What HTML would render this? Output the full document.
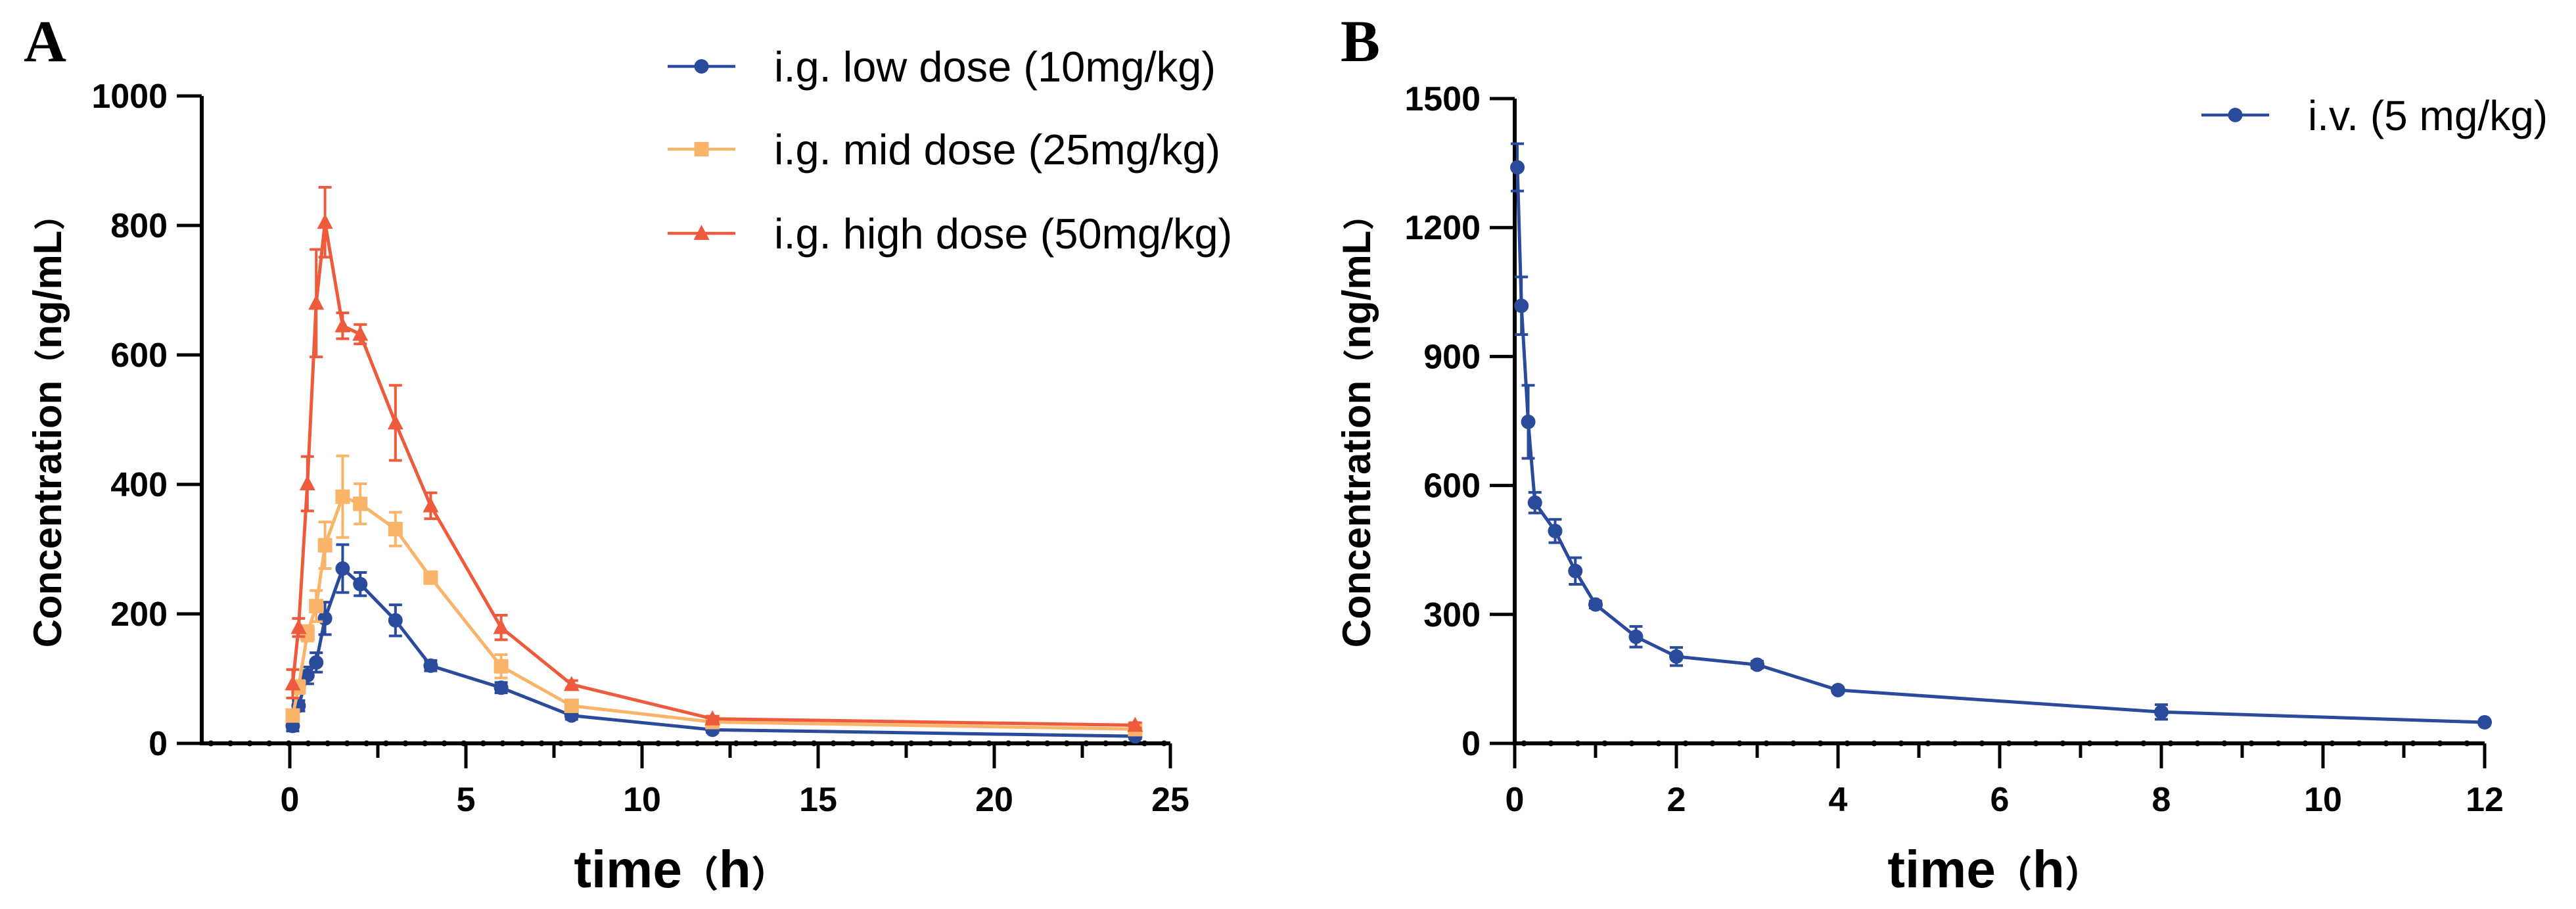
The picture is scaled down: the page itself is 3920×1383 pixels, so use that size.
<!DOCTYPE html>
<html><head><meta charset="utf-8"><style>
html,body{margin:0;padding:0;background:#fff}
svg{display:block}
text{font-family:"Liberation Sans","Noto Sans CJK SC",sans-serif}
text.serif{font-family:"Liberation Serif",serif}
</style></head><body>
<svg id="chart" width="3920" height="1383" viewBox="0 0 3920 1383" xmlns="http://www.w3.org/2000/svg">
<rect width="3920" height="1383" fill="#fff"/>
<g id="A"></g>
<g id="B"></g>
</svg>
<script>
// Panel A data
const timeA = [0.083, 0.25, 0.5, 0.75, 1, 1.5, 2, 3, 4, 6, 8, 12, 24];
const lowDose = [27, 58, 105, 125, 193, 270, 246, 190, 120, 86, 43, 21, 11];
const lowErr = [8, 8, 13, 15, 25, 37, 18, 24, 8, 8, 6, 4, 4];
const midDose = [43, 87, 170, 212, 306, 381, 370, 331, 256, 119, 58, 33, 22];
const midErr = [8, 10, 12, 24, 36, 63, 31, 26, 8, 18, 6, 4, 4];
const highDose = [92, 179, 401, 680, 805, 645, 632, 495, 367, 179, 91, 38, 28];
const highErr = [22, 14, 42, 83, 54, 20, 15, 58, 20, 19, 6, 4, 4];
const xTicksA = [0, 5, 10, 15, 20, 25];
const yTicksA = [0, 200, 400, 600, 800, 1000];
// Panel B data
const timeB = [0.033, 0.083, 0.167, 0.25, 0.5, 0.75, 1, 1.5, 2, 3, 4, 8, 12];
const ivDose = [1340, 1018, 748, 560, 494, 401, 323, 248, 202, 183, 124, 73, 49];
const ivErr = [55, 67, 85, 24, 27, 31, 8, 24, 21, 8, 5, 17, 3];
const xTicksB = [0, 2, 4, 6, 8, 10, 12];
const yTicksB = [0, 300, 600, 900, 1200, 1500];

const NS = "http://www.w3.org/2000/svg";
const BLUE = "#2a4a9c", ORANGE = "#f9b469", RED = "#ee5a3c";
function mk(parent, tag, attrs, txt) {
  const e = document.createElementNS(NS, tag);
  for (const k in attrs) e.setAttribute(k, attrs[k]);
  if (txt !== undefined) e.textContent = txt;
  parent.appendChild(e);
  return e;
}
function marker(g, shape, cx, cy, color) {
  let m;
  if (shape === "circle") m = mk(g, "circle", {cx: cx, cy: cy, r: 11, fill: color});
  else if (shape === "square") m = mk(g, "rect", {x: cx - 11, y: cy - 11, width: 22, height: 22, fill: color});
  else m = mk(g, "polygon", {points: (cx) + "," + (cy - 13) + " " + (cx - 12) + "," + (cy + 10) + " " + (cx + 12) + "," + (cy + 10), fill: color});
  return m;
}
function drawSeries(g, name, xs, ys, es, sx, sy, color, shape) {
  const sg = mk(g, "g", {});
  
  
  xs.forEach((t, i) => {
    const x = sx(t), yt = sy(ys[i] + es[i]), yb = sy(Math.max(0, ys[i] - es[i]));
    const eb = mk(sg, "path", {d: `M${x},${yt}V${yb}M${x-10},${yt}H${x+10}M${x-10},${yb}H${x+10}`, stroke: color, "stroke-width": 4, fill: "none"});
    
    
  });
  const d = xs.map((t, i) => (i ? "L" : "M") + sx(t) + "," + sy(ys[i])).join("");
  const ln = mk(sg, "path", {d: d, stroke: color, "stroke-width": 5, fill: "none", "stroke-linejoin": "round"});
  
  
  xs.forEach((t, i) => {
    const m = marker(sg, shape, sx(t), sy(ys[i]), color);
    
    
  });
}
function axes(g, o) {
  const {x0, x1, yTop, yBase, sx, sy, xTicks, yTicks, minorX, dotStep, yTitleX, letter, letterX} = o;
  const ax = mk(g, "g", {});
  
  
  mk(ax, "path", {d: `M${x0},${yTop}V${yBase}H${x1}`, stroke: "#000", "stroke-width": 6, fill: "none"});
  for (let x = x0 + 14; x < x1 - 4; x += dotStep) mk(ax, "circle", {cx: x, cy: yBase, r: 4.5, fill: "#000"});
  yTicks.forEach(v => {
    mk(ax, "line", {x1: x0 - 38, x2: x0, y1: sy(v), y2: sy(v), stroke: "#000", "stroke-width": 5});
    const t = mk(ax, "text", {x: x0 - 52, y: sy(v) + 18, "text-anchor": "end", "font-size": 52, "font-weight": "bold"}, String(v));
    
    
  });
  xTicks.forEach(v => {
    mk(ax, "line", {x1: sx(v), x2: sx(v), y1: yBase, y2: yBase + 38, stroke: "#000", "stroke-width": 5});
    const t = mk(ax, "text", {x: sx(v), y: yBase + 103, "text-anchor": "middle", "font-size": 52, "font-weight": "bold"}, String(v));
    
    
  });
  minorX.forEach(v => mk(ax, "line", {x1: sx(v), x2: sx(v), y1: yBase, y2: yBase + 22, stroke: "#000", "stroke-width": 5}));
  const yt = mk(g, "text", {transform: `translate(${yTitleX},644) rotate(-90)`, "text-anchor": "middle", "font-size": 60, "font-weight": "bold"});
  
  
  mk(yt, "tspan", {}, "Concentration");
  mk(yt, "tspan", {"font-size": 48}, "（");
  mk(yt, "tspan", {}, "ng/mL");
  mk(yt, "tspan", {"font-size": 48}, "）");
  const xc = (x0 + x1) / 2 - 8;
  const xt = mk(g, "text", {x: xc, y: 1350, "text-anchor": "middle", "font-size": 80, "font-weight": "bold"});
  
  
  mk(xt, "tspan", {}, "time");
  mk(xt, "tspan", {"font-size": 56}, "（");
  mk(xt, "tspan", {}, "h");
  mk(xt, "tspan", {"font-size": 56}, "）");
  const L = mk(g, "text", {x: letterX, y: 93, "font-size": 90, "font-weight": "bold", "class": "serif"}, letter);
  
  
}
function legendEntry(g, name, y, x1, x2, tx, color, shape, label, fs) {
  const le = mk(g, "g", {});
  
  
  mk(le, "line", {x1: x1, x2: x2, y1: y, y2: y, stroke: color, "stroke-width": 4.5});
  marker(le, shape, (x1 + x2) / 2, y, color);
  mk(le, "text", {x: tx, y: y + 23, "font-size": fs}, label);
}

// Panel A
const gA = document.getElementById("A");
const sxA = t => 441 + t * 53.6;
const syA = v => 1131 - v * 0.985;
axes(gA, {x0: 307, x1: 1781, yTop: 146, yBase: 1131, sx: sxA, sy: syA, xTicks: xTicksA, yTicks: yTicksA,
  minorX: [2.5, 7.5, 12.5, 17.5, 22.5], dotStep: 29.6, yTitleX: 93, letter: "A", letterX: 36});
drawSeries(gA, "low-dose-series", timeA, lowDose, lowErr, sxA, syA, BLUE, "circle");
drawSeries(gA, "mid-dose-series", timeA, midDose, midErr, sxA, syA, ORANGE, "square");
drawSeries(gA, "high-dose-series", timeA, highDose, highErr, sxA, syA, RED, "triangle");
legendEntry(gA, "legend-low-dose", 101, 1016, 1119, 1178, BLUE, "circle", "i.g. low dose (10mg/kg)", 65);
legendEntry(gA, "legend-mid-dose", 227, 1016, 1119, 1178, ORANGE, "square", "i.g. mid dose (25mg/kg)", 65);
legendEntry(gA, "legend-high-dose", 355, 1016, 1119, 1178, RED, "triangle", "i.g. high dose (50mg/kg)", 65);

// Panel B
const gB = document.getElementById("B");
const sxB = t => 2305 + t * 123;
const syB = v => 1131 - v * 0.654;
axes(gB, {x0: 2305, x1: 3781, yTop: 150, yBase: 1131, sx: sxB, sy: syB, xTicks: xTicksB, yTicks: yTicksB,
  minorX: [1, 3, 5, 7, 9, 11], dotStep: 41, yTitleX: 2085, letter: "B", letterX: 2040});
drawSeries(gB, "iv-series", timeB, ivDose, ivErr, sxB, syB, BLUE, "circle");
legendEntry(gB, "legend-iv", 175, 3350, 3453, 3512, BLUE, "circle", "i.v. (5 mg/kg)", 64);
</script>
</body></html>
